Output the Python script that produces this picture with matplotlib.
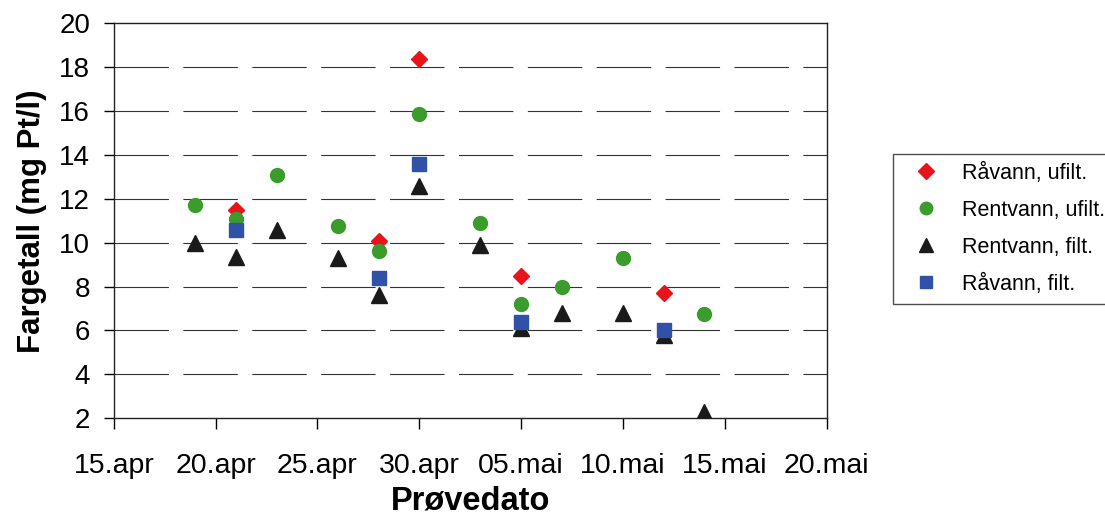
import matplotlib.pyplot as plt
import datetime as dt

plt.rcParams['font.family'] = ['Liberation Sans', 'DejaVu Sans']

# sample dates (day of month, month) and values
raa_ufilt_dates = [(21, 4), (28, 4), (30, 4), (5, 5), (12, 5)]
raa_ufilt = [11.5, 10.1, 18.35, 8.5, 7.7]

rent_ufilt_dates = [(19, 4), (21, 4), (23, 4), (26, 4), (28, 4), (30, 4),
                    (3, 5), (5, 5), (7, 5), (10, 5), (14, 5)]
rent_ufilt = [11.7, 11.1, 13.1, 10.75, 9.6, 15.85, 10.9, 7.2, 8.0, 9.3, 6.75]

rent_filt_dates = [(19, 4), (21, 4), (23, 4), (26, 4), (28, 4), (30, 4),
                   (3, 5), (5, 5), (7, 5), (10, 5), (12, 5), (14, 5)]
rent_filt = [10.0, 9.35, 10.6, 9.3, 7.6, 12.6, 9.9, 6.1, 6.8, 6.8, 5.8, 2.3]

raa_filt_dates = [(21, 4), (28, 4), (30, 4), (5, 5), (12, 5)]
raa_filt = [10.6, 8.4, 13.6, 6.4, 6.0]

tick_dates = [(15, 4), (20, 4), (25, 4), (30, 4), (5, 5), (10, 5), (15, 5), (20, 5)]
tick_labels = ["15.apr", "20.apr", "25.apr", "30.apr", "05.mai", "10.mai", "15.mai", "20.mai"]


def to_dates(pairs):
    return [dt.date(2004, m, d) for d, m in pairs]


fig = plt.figure(figsize=(11.05, 5.17), dpi=100)
ax = fig.add_axes([0.103, 0.191, 0.645, 0.764])

for y in range(4, 20, 2):
    ax.axhline(y, color="#333333", linewidth=0.8, dashes=(49, 13), zorder=1)

ax.plot(to_dates(raa_ufilt_dates), raa_ufilt, linestyle="none", marker="D",
        markersize=8.5, color="#e8141c", label="Råvann, ufilt.", zorder=3)
ax.plot(to_dates(rent_ufilt_dates), rent_ufilt, linestyle="none", marker="o",
        markersize=10, color="#3b9b2c", label="Rentvann, ufilt.", zorder=3)
ax.plot(to_dates(rent_filt_dates), rent_filt, linestyle="none", marker="^",
        markersize=11, color="#1a1a1a", label="Rentvann, filt.", zorder=3)
ax.plot(to_dates(raa_filt_dates), raa_filt, linestyle="none", marker="s",
        markersize=10, color="#2f52a8", label="Råvann, filt.", zorder=3)

ax.set_xlim(to_dates([(15, 4)])[0], to_dates([(20, 5)])[0])
ax.set_ylim(2, 20)
ax.set_xticks(to_dates(tick_dates))
ax.set_xticklabels(tick_labels)
ax.set_yticks(range(2, 21, 2))
ax.tick_params(axis="x", direction="out", length=8, width=1, labelsize=20.5, pad=17)
ax.tick_params(axis="y", direction="out", length=7, width=1, labelsize=20, pad=10)
for s in ax.spines.values():
    s.set_linewidth(1)
    s.set_color("#222222")

ax.set_xlabel("Prøvedato", fontsize=23.5, fontweight="bold", labelpad=5)
ax.set_ylabel("Fargetall (mg Pt/l)", fontsize=22.5, fontweight="bold", labelpad=9)

leg = fig.legend(loc="upper left", bbox_to_anchor=(0.808, 0.703), fontsize=15.5,
                 frameon=True, fancybox=False, edgecolor="#222222",
                 labelspacing=0.74, handletextpad=0.55, borderpad=0.42,
                 handlelength=2.25, borderaxespad=0, markerscale=0.9)
leg.get_frame().set_linewidth(1)

fig.savefig("out.png", dpi=100)
